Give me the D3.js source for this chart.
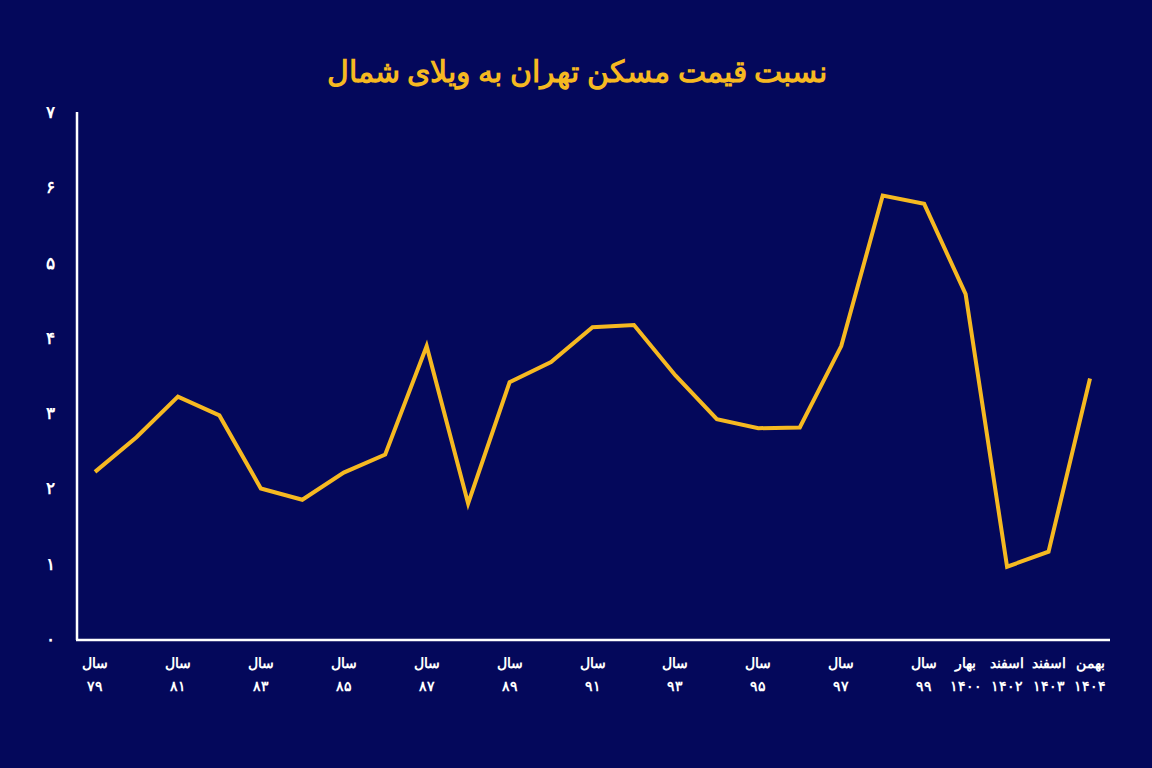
<!DOCTYPE html>
<html><head><meta charset="utf-8">
<script src="https://cdn.jsdelivr.net/npm/d3@7"></script>
<style>body{margin:0;background:#05085a;}svg{display:block}</style></head>
<body><svg id="c" width="1152" height="768"></svg>
<script>
const topLabels = ["سال","","سال","","سال","","سال","","سال","","سال","","سال","","سال","","سال","","سال","","سال","بهار","اسفند","اسفند","بهمن"];
const bottomLabels = ["۷۹","","۸۱","","۸۳","","۸۵","","۸۷","","۸۹","","۹۱","","۹۳","","۹۵","","۹۷","","۹۹","۱۴۰۰","۱۴۰۲","۱۴۰۳","۱۴۰۴"];
const values = [2.22,2.68,3.22,2.97,2.0,1.85,2.21,2.45,3.89,1.80,3.41,3.68,4.14,4.17,3.50,2.92,2.80,2.81,3.89,5.89,5.78,4.58,0.96,1.16,3.46];
const yTicks = [0,1,2,3,4,5,6,7];
const yTickLabels = ["۰","۱","۲","۳","۴","۵","۶","۷"];
const title = "نسبت قیمت مسکن تهران به ویلای شمال";

const svg = d3.select("#c");
svg.append("rect").attr("width",1152).attr("height",768).attr("fill","#04085b");
const x = d3.scalePoint().domain(d3.range(values.length)).range([95,1090]);
const y = d3.scaleLinear().domain([0,7]).range([639,112]);
const font = "Noto Sans, sans-serif";

svg.append("text").attr("x",577).attr("y",82).attr("text-anchor","middle")
  .attr("fill","#f6b921").attr("font-family",font).attr("font-weight","bold").attr("font-size",30).text(title);

svg.append("line").attr("x1",77).attr("x2",77).attr("y1",112).attr("y2",640).attr("stroke","#fff").attr("stroke-width",2.5);
svg.append("line").attr("x1",76).attr("x2",1110).attr("y1",640).attr("y2",640).attr("stroke","#fff").attr("stroke-width",2.5);

svg.selectAll(".yt").data(yTicks).join("text").attr("x",50).attr("y",d=>y(d)+6)
  .attr("text-anchor","middle").attr("fill","#fff").attr("font-family",font).attr("font-weight","bold").attr("font-size",17)
  .text((d,i)=>yTickLabels[i]);

const g = svg.selectAll(".xl").data(values.map((v,i)=>i)).join("g");
g.append("text").attr("x",i=>x(i)).attr("y",668).attr("text-anchor","middle").attr("fill","#fff")
  .attr("font-family",font).attr("font-weight","bold").attr("font-size",14).text(i=>topLabels[i]);
g.append("text").attr("x",i=>x(i)).attr("y",691).attr("text-anchor","middle").attr("fill","#fff")
  .attr("font-family",font).attr("font-weight","bold").attr("font-size",14).text(i=>bottomLabels[i]);

svg.append("path").datum(values).attr("fill","none").attr("stroke","#f6b921").attr("stroke-width",4)
  .attr("stroke-linejoin","miter")
  .attr("d",d3.line().x((d,i)=>x(i)).y(d=>y(d)));
</script></body></html>
